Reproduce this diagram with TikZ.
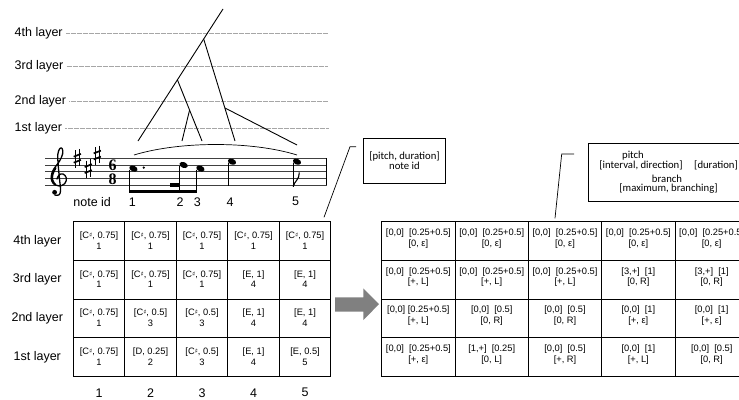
\documentclass[tikz,border=0pt]{standalone}
\usepackage{fontspec}
\setmainfont{Liberation Sans}
\newfontfamily\calfont{Carlito}
\newfontfamily\dejavu{DejaVu Sans}
\newfontfamily\tserif{Liberation Serif}
\newcommand\shp{{\dejavu\fontsize{6.5}{6.5}\selectfont\raisebox{0.3ex}{♯}}}
\newcommand\lcell[5]{%
  \node[lbox] (#1) at ({73.3+51.5*(#2-0.5)},{221.5+38.75*(#3-0.5)}) {};
  \node[ctext] (#1t) at ([yshift=0.5pt]#1.center) {#4\\{}#5};}
\newcommand\rcell[5]{%
  \node[rbox] (#1) at ({381.7+73.33*(#2-0.5)},{221.5+38.75*(#3-0.5)}) {};
  \node[ctext] (#1t) at ([yshift=2.5pt]#1.center) {#4\\{}#5};}
\newcommand\sharpsign[2]{%
  \draw[line width=0.6pt] (#1-1.6,#2-8) -- (#1-1.6,#2+9.5);
  \draw[line width=0.6pt] (#1+1.6,#2-9.5) -- (#1+1.6,#2+8);
  \draw[line width=1.7pt] (#1-3.6,#2-1.6) -- (#1+3.6,#2-4.4);
  \draw[line width=1.7pt] (#1-3.6,#2+4.4) -- (#1+3.6,#2+1.6);}
\newcommand\nhead[2]{\fill[rotate around={-22:(#1,#2)}] (#1,#2) ellipse (4.3 and 2.9);}
\begin{document}
\begin{tikzpicture}[x=1pt,y=-1pt,
  lab/.style={font=\fontsize{12.5}{14}\selectfont, inner sep=0},
  dotl/.style={draw=gray!70, line width=0.5pt, dash pattern=on 0.6pt off 0.6pt},
  tree/.style={line width=0.9pt},
  staffl/.style={line width=0.6pt, black!75},
  lbox/.style={draw, line width=0.8pt, minimum width=51.5pt, minimum height=38.75pt, inner sep=0},
  rbox/.style={draw, line width=0.8pt, minimum width=73.33pt, minimum height=38.75pt, inner sep=0},
  ctext/.style={align=center, font=\fontsize{9.3}{10.8}\selectfont, inner sep=0},
  callout/.style={draw, line width=0.8pt, inner sep=0},
  ctf/.style={font=\calfont\fontsize{10.7}{10.5}\selectfont, inner sep=0, align=center},
  leader/.style={line width=0.7pt},
  tsig/.style={inner sep=0, font=\tserif\bfseries\fontsize{16}{16}\selectfont},
]
\useasboundingbox (0,0) rectangle (739,399);
\clip (0,0) rectangle (739,399);

% ---- layer guide lines
\foreach \yy/\tt/\nm in {33/4th layer/g4, 66/3rd layer/g3, 101/2nd layer/g2, 128/1st layer/g1}{
  \node[lab, anchor=west] (\nm) at (14.5,\yy) {\tt};
  \coordinate (\nm e) at (328,\yy);
  \draw[dotl] (\nm.east) ++(3,0) coordinate (\nm s) -- (\nm e);
}

% ---- tree
\coordinate (T) at (223,9);
\coordinate (A) at (203.7,39);
\coordinate (B) at (177.5,80);
\coordinate (C) at (189.6,110);
\coordinate (D) at (225,108);
\coordinate (l1) at (138,141);
\coordinate (l2) at (182,141);
\coordinate (l3) at (202,141);
\coordinate (l4) at (235,141);
\coordinate (l5) at (297,145);
\draw[tree] (T) -- (l1);
\draw[tree] (A) -- (l4);
\draw[tree] (B) -- (l3);
\draw[tree] (C) -- (l2);
\draw[tree] (D) -- (l5);

% ---- slur
\coordinate (s1) at (134,155);
\coordinate (s2) at (297,155);
\draw[line width=0.7pt] (s1) .. controls (180,141) and (252,141) .. (s2);

% ---- staff
\foreach \k in {0,...,4}{
  \draw[staffl] (45,{158.3+6.72*\k}) -- (327,{158.3+6.72*\k});
}
\draw[line width=0.9pt] (326.7,158.3) -- (326.7,185.2);
% treble clef drawn as a shape
\draw[line width=1.3pt, line cap=round, line join=round]
  plot[smooth, tension=0.65] coordinates {(57,179) (59,175) (63,174) (66.3,177.8) (64.8,183.6) (58.8,185.9) (52.8,182.8) (51.2,176.3) (53.8,169) (59.3,161.5) (62.6,154) (62.2,148.6) (59.8,148.6) (57.8,154.5) (58.2,165) (59.6,180) (60.6,190.5) (58.8,195) (54.8,195)};
\draw[line width=2.2pt, line cap=round]
  plot[smooth, tension=0.7] coordinates {(55,184.5) (52.4,180.5) (52.4,174.5) (55.5,168)};
\fill (54.6,192.3) circle (2.4);
\sharpsign{77.3}{158.3}
\sharpsign{88.3}{168.6}
\sharpsign{97.3}{155}
\node[tsig, anchor=base] (ts6) at (112.7,170.6) {6};
\node[tsig, anchor=base] (ts8) at (112.7,184.8) {8};
% notes
\nhead{133.4}{168.6}
\fill (143.8,167.6) circle (1.2);
\nhead{183.6}{165}
\nhead{200.4}{168.6}
\nhead{232}{161.7}
\nhead{297}{161.7}
\draw[line width=0.8pt] (129.6,169.5) -- (129.6,193);
\draw[line width=0.8pt] (179.8,166) -- (179.8,193);
\draw[line width=0.8pt] (196.6,169.5) -- (196.6,193);
\draw[line width=0.8pt] (228.2,162.5) -- (228.2,185.5);
\draw[line width=0.8pt] (293.2,162.5) -- (293.2,187);
\fill (129.2,189.8) rectangle (197,193.3);
\fill (170,183.2) rectangle (180.2,186.6);
\draw[line width=1.1pt] (293.2,186.5) .. controls (294.5,181) and (299.5,179.5) .. (299.3,172.5);

% ---- note ids
\node[lab] (nid) at (92.2,201.7) {note id};
\node[lab] (n1) at (132.3,201.7) {1};
\node[lab] (n2) at (180,201.7) {2};
\node[lab] (n3) at (197.3,201.7) {3};
\node[lab] (n4) at (230,202.5) {4};
\node[lab] (n5) at (295.7,201.7) {5};

% ---- left table
\lcell{L41}{1}{1}{[C\shp, 0.75]}{1}
\lcell{L42}{2}{1}{[C\shp, 0.75]}{1}
\lcell{L43}{3}{1}{[C\shp, 0.75]}{1}
\lcell{L44}{4}{1}{[C\shp, 0.75]}{1}
\lcell{L45}{5}{1}{[C\shp, 0.75]}{1}
\lcell{L31}{1}{2}{[C\shp, 0.75]}{1}
\lcell{L32}{2}{2}{[C\shp, 0.75]}{1}
\lcell{L33}{3}{2}{[C\shp, 0.75]}{1}
\lcell{L34}{4}{2}{[E, 1]}{4}
\lcell{L35}{5}{2}{[E, 1]}{4}
\lcell{L21}{1}{3}{[C\shp, 0.75]}{1}
\lcell{L22}{2}{3}{[C\shp, 0.5]}{3}
\lcell{L23}{3}{3}{[C\shp, 0.5]}{3}
\lcell{L24}{4}{3}{[E, 1]}{4}
\lcell{L25}{5}{3}{[E, 1]}{4}
\lcell{L11}{1}{4}{[C\shp, 0.75]}{1}
\lcell{L12}{2}{4}{[D, 0.25]}{2}
\lcell{L13}{3}{4}{[C\shp, 0.5]}{3}
\lcell{L14}{4}{4}{[E, 1]}{4}
\lcell{L15}{5}{4}{[E, 0.5]}{5}
\node[lab] (r4) at (37.3,240.9) {4th layer};
\node[lab] (r3) at (37.3,279.6) {3rd layer};
\node[lab] (r2) at (37.3,318.4) {2nd layer};
\node[lab] (r1) at (37.3,357.1) {1st layer};
\foreach \c in {1,...,5}{
  \node[lab] (col\c) at ({73.3+51.5*(\c-0.5)},392.7) {\c};
}

% ---- arrow
\fill[fill={rgb,255:red,128;green,128;blue,128}] (335,297.3) -- (363.3,297.3) -- (363.3,288.3) -- (379,304.2) -- (363.3,320) -- (363.3,311.7) -- (335,311.7) -- cycle;

% ---- right table
\rcell{R41}{1}{1}{[0,0]~~[0.25+0.5]}{[0, ε]}
\rcell{R42}{2}{1}{[0,0]~~[0.25+0.5]}{[0, ε]}
\rcell{R43}{3}{1}{[0,0]~~[0.25+0.5]}{[0, ε]}
\rcell{R44}{4}{1}{[0,0]~~[0.25+0.5]}{[0, ε]}
\rcell{R45}{5}{1}{[0,0]~~[0.25+0.5]}{[0, ε]}
\rcell{R31}{1}{2}{[0,0]~~[0.25+0.5]}{[+, L]}
\rcell{R32}{2}{2}{[0,0]~~[0.25+0.5]}{[+, L]}
\rcell{R33}{3}{2}{[0,0]~~[0.25+0.5]}{[+, L]}
\rcell{R34}{4}{2}{[3,+]~~[1]}{[0, R]}
\rcell{R35}{5}{2}{[3,+]~~[1]}{[0, R]}
\rcell{R21}{1}{3}{[0,0]~[0.25+0.5]}{[+, L]}
\rcell{R22}{2}{3}{[0,0]~~[0.5]}{[0, R]}
\rcell{R23}{3}{3}{[0,0]~~[0.5]}{[0, R]}
\rcell{R24}{4}{3}{[0,0]~~[1]}{[+, ε]}
\rcell{R25}{5}{3}{[0,0]~~[1]}{[+, ε]}
\rcell{R11}{1}{4}{[0,0]~~[0.25+0.5]}{[+, ε]}
\rcell{R12}{2}{4}{[1,+]~~[0.25]}{[0, L]}
\rcell{R13}{3}{4}{[0,0]~~[0.5]}{[+, R]}
\rcell{R14}{4}{4}{[0,0]~~[1]}{[+, L]}
\rcell{R15}{5}{4}{[0,0]~~[0.5]}{[0, R]}

% ---- callout 1
\node[callout, minimum width=82.4pt, minimum height=45pt] (cb1) at (404.5,160.8) {};
\node[ctf] (cb1t) at (404.5,160.5) {[pitch, duration]\\{}note id};
\coordinate (c1a) at (356,146.7);
\coordinate (c1b) at (350,146.7);
\coordinate (c1c) at (324,217.3);
\draw[leader] (c1a) -- (c1b) -- (c1c);

% ---- callout 2
\node[callout, minimum width=160pt, minimum height=58.4pt] (cb2) at (668.3,172.5) {};
\node[ctf] (p1) at (633,155.7) {pitch};
\node[ctf] (p2) at (641,165.5) {[interval, direction]};
\node[ctf] (p3) at (716,165.5) {[duration]};
\node[ctf] (p4) at (667,179) {branch};
\node[ctf] (p5) at (668.5,189) {[maximum, branching]};
\coordinate (c2a) at (574,154);
\coordinate (c2b) at (561.7,154);
\coordinate (c2c) at (555,218.3);
\draw[leader] (c2a) -- (c2b) -- (c2c);
\end{tikzpicture}
\end{document}
